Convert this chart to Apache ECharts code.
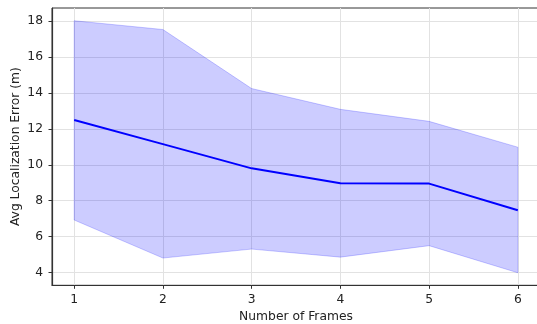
<!DOCTYPE html>
<html>
<head>
<meta charset="utf-8">
<script src="https://cdn.jsdelivr.net/npm/echarts@6/dist/echarts.min.js"></script>
<style>html,body{margin:0;padding:0;background:#fff;}#c{width:537px;height:324px;}</style>
</head>
<body>
<div id="c"></div>
<script>
const frames = [1, 2, 3, 4, 5, 6];
const meanError = [12.5, 11.15, 9.8, 8.97, 8.95, 7.46];
const upperError = [18.03, 17.54, 14.25, 13.09, 12.42, 10.98];
const lowerError = [6.92, 4.8, 5.3, 4.85, 5.49, 3.98];
const xTicks = [1, 2, 3, 4, 5, 6];
const yTicks = [4, 6, 8, 10, 12, 14, 16, 18];

const font = 'DejaVu Sans';
const chart = echarts.init(document.getElementById('c'), null, {renderer: 'canvas'});
const pairs = a => frames.map((f, i) => [f, a[i]]);
const bandData = frames.map((f, i) => [f, lowerError[i], upperError[i]]);

chart.setOption({
  animation: false,
  backgroundColor: '#fff',
  grid: {left: 52, top: 8, width: 488, height: 277.3, containLabel: false, outerBoundsMode: 'none',
         show: true, borderColor: '#333', borderWidth: 1, backgroundColor: 'transparent'},
  xAxis: {
    type: 'value', min: 0.75, max: 6.25,
    name: 'Number of Frames', nameLocation: 'middle', nameGap: 26, nameMoveOverlap: false,
    nameTextStyle: {fontFamily: font, fontSize: 12.3, color: '#222'},
    axisLine: {show: true, onZero: false, lineStyle: {color: '#333', width: 1.2}},
    axisTick: {show: true, length: 3.5, customValues: xTicks, lineStyle: {color: '#333', width: 1}},
    axisLabel: {customValues: xTicks, margin: 9, fontFamily: font, fontSize: 12.3, color: '#222'},
    splitLine: {show: true, lineStyle: {color: '#e2e2e2', width: 1}}
  },
  yAxis: {
    type: 'value', min: 3.28, max: 18.74,
    name: 'Avg Localization Error (m)', nameLocation: 'middle', nameGap: 30, nameMoveOverlap: false,
    nameTextStyle: {fontFamily: font, fontSize: 12.3, color: '#222'},
    axisLine: {show: true, onZero: false, lineStyle: {color: '#333', width: 1.2}},
    axisTick: {show: true, length: 3.5, customValues: yTicks, lineStyle: {color: '#333', width: 1}},
    axisLabel: {customValues: yTicks, margin: 9, fontFamily: font, fontSize: 12.3, color: '#222'},
    splitLine: {show: true, lineStyle: {color: '#e2e2e2', width: 1}}
  },
  series: [
    {type: 'custom', data: bandData, silent: true, z: 1,
     encode: {x: 0, y: [1, 2]},
     renderItem: function (params, api) {
       if (params.dataIndex !== 0) return null;
       const pts = [];
       for (let i = 0; i < bandData.length; i++) pts.push(api.coord([bandData[i][0], bandData[i][2]]));
       for (let i = bandData.length - 1; i >= 0; i--) pts.push(api.coord([bandData[i][0], bandData[i][1]]));
       return {type: 'polygon', shape: {points: pts},
               style: {fill: 'rgba(0,0,255,0.2)', stroke: 'rgba(0,0,255,0.2)', lineWidth: 1}};
     }},
    {type: 'line', data: pairs(meanError), symbol: 'none',
     lineStyle: {color: '#0000ff', width: 2}, z: 3}
  ]
});
</script>
</body>
</html>
